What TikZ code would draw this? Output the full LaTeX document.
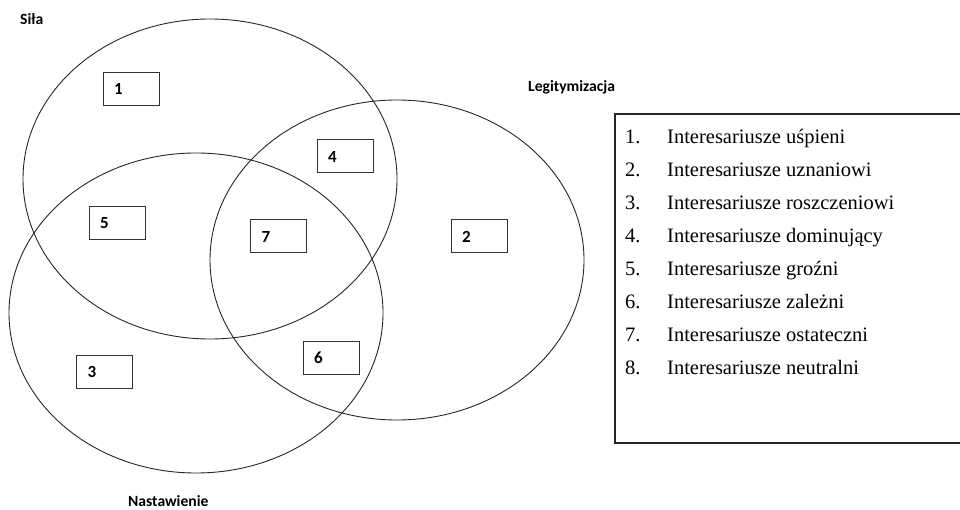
\documentclass[tikz,border=0pt]{standalone}
\usepackage{fontspec}
\setmainfont{Liberation Serif}
\newfontfamily\carlito{Carlito}
\usetikzlibrary{positioning}

\begin{document}
\begin{tikzpicture}[
		    x=1pt, y=-1pt,
		    every node/.style={inner sep=0pt},
		    font=\carlito\bfseries\fontsize{15.6}{19}\selectfont
		]
		\tikzset{
		    zbior/.style={draw=black!85, line width=0.9pt},
		    pole/.style={draw=black!80, line width=1pt, minimum width=56pt, minimum height=33pt,
		                 text width=34pt, inner xsep=11pt, align=left,
		                 font=\carlito\bfseries\fontsize{17}{20}\selectfont},
		    nazwa/.style={anchor=base west},
		    opis/.style={anchor=base west, font=\fontsize{20.5}{24}\selectfont}
		}
		\clip (0,0) rectangle (960,510);
		% trzy zbiory
		\draw[zbior] (210,179) ellipse [x radius=187pt, y radius=160pt];
		\draw[zbior] (397,260) ellipse [x radius=187pt, y radius=160pt];
		\draw[zbior] (196,313) ellipse [x radius=187pt, y radius=160pt];
		\node[nazwa] (sila) at (20,25) {Siła};
		\node[nazwa] (legitymizacja) at (528,92) {Legitymizacja};
		\node[nazwa] (nastawienie) at (128,506.5) {Nastawienie};
		% pola z numerami
		\node[pole] (p1) at (131,89) {1};
		\node[pole] (p2) at (479,236.5) {2};
		\node[pole] (p3) at (104.5,371.5) {3};
		\node[pole] (p4) at (345,156.5) {4};
		\node[pole] (p5) at (117,223.5) {5};
		\node[pole] (p6) at (331,357.5) {6};
		\node[pole] (p7) at (278.5,236.5) {7};
		% legenda
		\draw[line width=1.3pt, draw=black!85] (615,114) rectangle (975,443);
		\foreach \nr/\tekst in {1/uśpieni, 2/uznaniowi, 3/roszczeniowi, 4/dominujący,
		                        5/groźni, 6/zależni, 7/ostateczni, 8/neutralni} {
		    \node[opis] (nr\nr) at (625,{143.5+33*(\nr-1)}) {\nr.};
		    \node[opis] (poz\nr) at (667,{143.5+33*(\nr-1)}) {Interesariusze \tekst};
		}
		\end{tikzpicture}
\end{document}
